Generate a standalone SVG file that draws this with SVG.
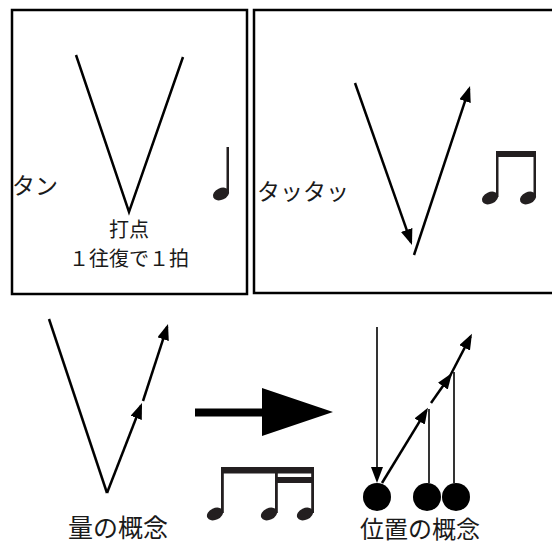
<svg xmlns="http://www.w3.org/2000/svg" width="552" height="545" viewBox="0 0 552 545">
<style>
.frame{fill:none;stroke:#000;stroke-width:2.5}
.ln{fill:none;stroke:#000;stroke-width:2.5}
.thin{fill:none;stroke:#000;stroke-width:1.6}
.txt{font-family:"Noto Sans CJK JP","Noto Sans",sans-serif;fill:#1a1a1a}
.note{fill:#231f20}
</style>
<defs>
<marker id="ah" markerUnits="userSpaceOnUse" markerWidth="18" markerHeight="14" refX="13" refY="6" orient="auto">
<path d="M0,0 L16,6 L0,12 Z" fill="#000"/>
</marker>
</defs>
<rect width="552" height="545" fill="#fff"/>

<g id="box1">
<rect class="frame" x="12" y="10" width="235" height="284"/>
<polyline class="ln" points="76,55 129,212 183,57"/>
<text class="txt" x="12" y="194" font-size="23">タン</text>
<text class="txt" x="129" y="237" font-size="20" text-anchor="middle">打点</text>
<text class="txt" x="129" y="266" font-size="20" text-anchor="middle">１往復で１拍</text>
<g id="quarter" class="note">
<rect x="226.5" y="147" width="2.5" height="46"/>
<ellipse cx="221" cy="194" rx="8.5" ry="5.8" transform="rotate(-25 221 194)"/>
</g>
</g>

<g id="box2">
<rect class="frame" x="254" y="10" width="300" height="283"/>
<text class="txt" x="257" y="200" font-size="23">タッタッ</text>
<g id="eighths" class="note">
<rect x="496" y="151" width="40" height="6"/>
<rect x="496" y="151" width="2.5" height="46"/>
<rect x="533.5" y="151" width="2.5" height="46"/>
<ellipse cx="490" cy="198" rx="8.5" ry="5.8" transform="rotate(-25 490 198)"/>
<ellipse cx="528" cy="198" rx="8.5" ry="5.8" transform="rotate(-25 528 198)"/>
</g>
</g>

<g id="amount">
<text class="txt" x="118" y="537" font-size="25" text-anchor="middle">量の概念</text>
<g id="sixteenths" class="note">
<rect x="221" y="467" width="93" height="6.5"/>
<rect x="275" y="477" width="39" height="6"/>
<rect x="221" y="467" width="2.8" height="46"/>
<rect x="275" y="467" width="2.8" height="46"/>
<rect x="311.2" y="467" width="2.8" height="46"/>
<ellipse cx="215" cy="514" rx="8.5" ry="5.8" transform="rotate(-25 215 514)"/>
<ellipse cx="269" cy="514" rx="8.5" ry="5.8" transform="rotate(-25 269 514)"/>
<ellipse cx="305" cy="514" rx="8.5" ry="5.8" transform="rotate(-25 305 514)"/>
</g>
</g>

<g id="big-arrow">
<path d="M195,408.5 L262,408.5 L262,388 L333,412 L262,436 L262,416.5 L195,416.5 Z" fill="#000"/>
</g>

<g id="position">
<text class="txt" x="420" y="537.5" font-size="24" text-anchor="middle">位置の概念</text>
<circle cx="377" cy="497" r="14"/>
<circle cx="427" cy="497" r="14"/>
<circle cx="456" cy="497" r="14"/>
</g>

<g id="connectors">
<line class="ln" x1="355" y1="83" x2="411" y2="242.2" marker-end="url(#ah)"/>
<line class="ln" x1="414" y1="255" x2="469.1" y2="88.8" marker-end="url(#ah)"/>
<line class="ln" x1="49" y1="319" x2="107" y2="493"/>
<line class="ln" x1="107" y1="493" x2="140.9" y2="405.8" marker-end="url(#ah)"/>
<line class="ln" x1="143" y1="401" x2="167.1" y2="326.9" marker-end="url(#ah)"/>
<line class="thin" x1="377" y1="327" x2="377" y2="480" marker-end="url(#ah)"/>
<line class="ln" x1="382" y1="483" x2="426.4" y2="410.4" marker-end="url(#ah)"/>
<line class="ln" x1="431" y1="403" x2="450.3" y2="375.5" marker-end="url(#ah)"/>
<line class="ln" x1="450" y1="376" x2="470.6" y2="336.3" marker-end="url(#ah)"/>
<line class="thin" x1="429" y1="409" x2="429" y2="483"/>
<line class="thin" x1="454" y1="372" x2="454" y2="483"/>
</g>
</svg>
